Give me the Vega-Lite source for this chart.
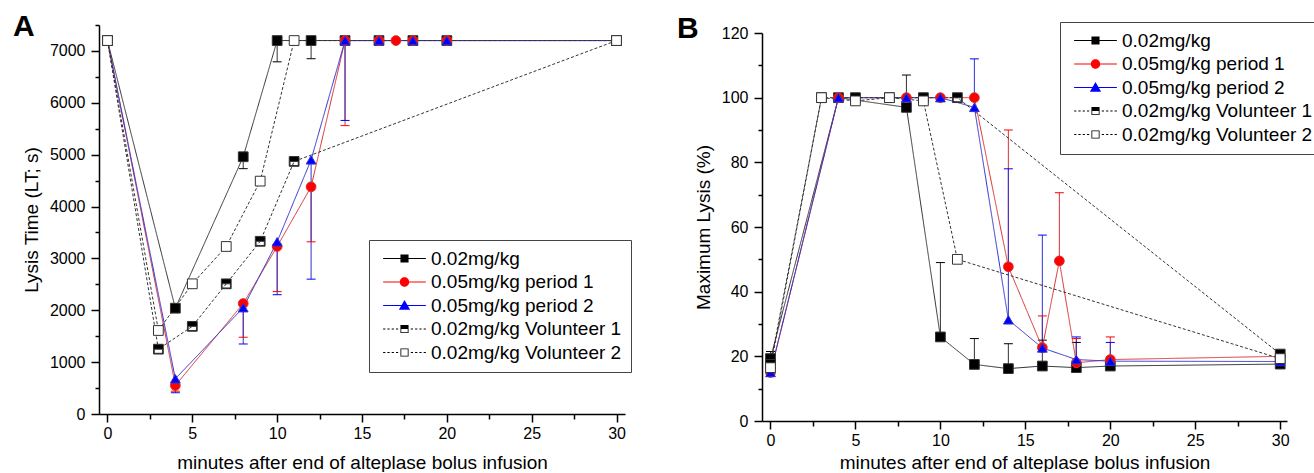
{
  "$schema": "https://vega.github.io/schema/vega-lite/v6.json",
  "padding": {"left": 12, "top": 11, "right": 0, "bottom": 0},
  "config": {
    "font": "Liberation Sans",
    "view": {"stroke": null},
    "axis": {
      "grid": false,
      "domainColor": "#000",
      "domainWidth": 1.5,
      "tickColor": "#000",
      "tickWidth": 1.5,
      "labelFont": "Liberation Sans",
      "labelFontSize": 16,
      "labelColor": "#000",
      "titleFont": "Liberation Sans",
      "titleFontSize": 19,
      "titleFontWeight": "normal",
      "titleColor": "#000",
      "labelFlush": false,
      "labelOverlap": false
    }
  },
  "datasets": {
    "A": [
      {"s": "0.02mg/kg", "x": 0, "y": 7200, "e": null},
      {"s": "0.02mg/kg", "x": 4, "y": 2040, "e": null},
      {"s": "0.02mg/kg", "x": 8, "y": 4960, "e": 4730},
      {"s": "0.02mg/kg", "x": 10, "y": 7200, "e": 6790},
      {"s": "0.02mg/kg", "x": 12, "y": 7200, "e": 6850},
      {"s": "0.02mg/kg", "x": 14, "y": 7200, "e": null},
      {"s": "0.02mg/kg", "x": 16, "y": 7200, "e": null},
      {"s": "0.02mg/kg", "x": 18, "y": 7200, "e": null},
      {"s": "0.02mg/kg", "x": 20, "y": 7200, "e": null},
      {"s": "0.02mg/kg", "x": 30, "y": 7200, "e": null},
      {"s": "0.05mg/kg period 1", "x": 0, "y": 7200, "e": null},
      {"s": "0.05mg/kg period 1", "x": 4, "y": 550, "e": 440},
      {"s": "0.05mg/kg period 1", "x": 8, "y": 2130, "e": 1480},
      {"s": "0.05mg/kg period 1", "x": 10, "y": 3230, "e": 2360},
      {"s": "0.05mg/kg period 1", "x": 12, "y": 4380, "e": 3320},
      {"s": "0.05mg/kg period 1", "x": 14, "y": 7200, "e": 5560},
      {"s": "0.05mg/kg period 1", "x": 16, "y": 7200, "e": null},
      {"s": "0.05mg/kg period 1", "x": 17, "y": 7200, "e": null},
      {"s": "0.05mg/kg period 1", "x": 18, "y": 7200, "e": null},
      {"s": "0.05mg/kg period 1", "x": 20, "y": 7200, "e": null},
      {"s": "0.05mg/kg period 1", "x": 30, "y": 7200, "e": null},
      {"s": "0.05mg/kg period 2", "x": 0, "y": 7200, "e": null},
      {"s": "0.05mg/kg period 2", "x": 4, "y": 680, "e": 410},
      {"s": "0.05mg/kg period 2", "x": 8, "y": 2050, "e": 1350},
      {"s": "0.05mg/kg period 2", "x": 10, "y": 3320, "e": 2300},
      {"s": "0.05mg/kg period 2", "x": 12, "y": 4900, "e": 2600},
      {"s": "0.05mg/kg period 2", "x": 14, "y": 7200, "e": 5660},
      {"s": "0.05mg/kg period 2", "x": 16, "y": 7200, "e": null},
      {"s": "0.05mg/kg period 2", "x": 18, "y": 7200, "e": null},
      {"s": "0.05mg/kg period 2", "x": 20, "y": 7200, "e": null},
      {"s": "0.05mg/kg period 2", "x": 30, "y": 7200, "e": null},
      {"s": "0.02mg/kg Volunteer 1", "x": 0, "y": 7200, "e": null},
      {"s": "0.02mg/kg Volunteer 1", "x": 3, "y": 1250, "e": null},
      {"s": "0.02mg/kg Volunteer 1", "x": 5, "y": 1690, "e": null},
      {"s": "0.02mg/kg Volunteer 1", "x": 7, "y": 2510, "e": null},
      {"s": "0.02mg/kg Volunteer 1", "x": 9, "y": 3330, "e": null},
      {"s": "0.02mg/kg Volunteer 1", "x": 11, "y": 4870, "e": null},
      {"s": "0.02mg/kg Volunteer 1", "x": 30, "y": 7200, "e": null},
      {"s": "0.02mg/kg Volunteer 2", "x": 0, "y": 7200, "e": null},
      {"s": "0.02mg/kg Volunteer 2", "x": 3, "y": 1610, "e": null},
      {"s": "0.02mg/kg Volunteer 2", "x": 5, "y": 2510, "e": null},
      {"s": "0.02mg/kg Volunteer 2", "x": 7, "y": 3230, "e": null},
      {"s": "0.02mg/kg Volunteer 2", "x": 9, "y": 4490, "e": null},
      {"s": "0.02mg/kg Volunteer 2", "x": 11, "y": 7200, "e": null},
      {"s": "0.02mg/kg Volunteer 2", "x": 30, "y": 7200, "e": null}
    ],
    "B": [
      {"s": "0.02mg/kg", "x": 0, "y": 19.3, "e": 21.5},
      {"s": "0.02mg/kg", "x": 4, "y": 100, "e": null},
      {"s": "0.02mg/kg", "x": 8, "y": 97, "e": 107},
      {"s": "0.02mg/kg", "x": 10, "y": 26, "e": 49},
      {"s": "0.02mg/kg", "x": 12, "y": 17.5, "e": 25.5},
      {"s": "0.02mg/kg", "x": 14, "y": 16.2, "e": 23.9},
      {"s": "0.02mg/kg", "x": 16, "y": 17, "e": 25},
      {"s": "0.02mg/kg", "x": 18, "y": 16.5, "e": 24.3},
      {"s": "0.02mg/kg", "x": 20, "y": 17, "e": null},
      {"s": "0.02mg/kg", "x": 30, "y": 17.6, "e": null},
      {"s": "0.05mg/kg period 1", "x": 0, "y": 15, "e": null},
      {"s": "0.05mg/kg period 1", "x": 4, "y": 100, "e": null},
      {"s": "0.05mg/kg period 1", "x": 8, "y": 100, "e": null},
      {"s": "0.05mg/kg period 1", "x": 10, "y": 100, "e": null},
      {"s": "0.05mg/kg period 1", "x": 12, "y": 100, "e": null},
      {"s": "0.05mg/kg period 1", "x": 14, "y": 47.7, "e": 90},
      {"s": "0.05mg/kg period 1", "x": 16, "y": 22.7, "e": 32.5},
      {"s": "0.05mg/kg period 1", "x": 17, "y": 49.5, "e": 70.6},
      {"s": "0.05mg/kg period 1", "x": 18, "y": 18, "e": 25.5},
      {"s": "0.05mg/kg period 1", "x": 20, "y": 19, "e": 26},
      {"s": "0.05mg/kg period 1", "x": 30, "y": 20, "e": 21.5},
      {"s": "0.05mg/kg period 2", "x": 0, "y": 15, "e": null},
      {"s": "0.05mg/kg period 2", "x": 4, "y": 100, "e": null},
      {"s": "0.05mg/kg period 2", "x": 8, "y": 100, "e": null},
      {"s": "0.05mg/kg period 2", "x": 10, "y": 100, "e": null},
      {"s": "0.05mg/kg period 2", "x": 12, "y": 97, "e": 112},
      {"s": "0.05mg/kg period 2", "x": 14, "y": 31.3, "e": 78},
      {"s": "0.05mg/kg period 2", "x": 16, "y": 22.6, "e": 57.5},
      {"s": "0.05mg/kg period 2", "x": 18, "y": 19, "e": 26},
      {"s": "0.05mg/kg period 2", "x": 20, "y": 18.5, "e": 24.3},
      {"s": "0.05mg/kg period 2", "x": 30, "y": 18.4, "e": null},
      {"s": "0.02mg/kg Volunteer 1", "x": 0, "y": 17.5, "e": null},
      {"s": "0.02mg/kg Volunteer 1", "x": 3, "y": 100, "e": null},
      {"s": "0.02mg/kg Volunteer 1", "x": 5, "y": 100, "e": null},
      {"s": "0.02mg/kg Volunteer 1", "x": 7, "y": 100, "e": null},
      {"s": "0.02mg/kg Volunteer 1", "x": 9, "y": 100, "e": null},
      {"s": "0.02mg/kg Volunteer 1", "x": 11, "y": 100, "e": null},
      {"s": "0.02mg/kg Volunteer 1", "x": 30, "y": 20.7, "e": null},
      {"s": "0.02mg/kg Volunteer 2", "x": 0, "y": 16.5, "e": null},
      {"s": "0.02mg/kg Volunteer 2", "x": 3, "y": 100, "e": null},
      {"s": "0.02mg/kg Volunteer 2", "x": 5, "y": 99, "e": null},
      {"s": "0.02mg/kg Volunteer 2", "x": 7, "y": 100, "e": null},
      {"s": "0.02mg/kg Volunteer 2", "x": 9, "y": 99, "e": null},
      {"s": "0.02mg/kg Volunteer 2", "x": 11, "y": 50, "e": null},
      {"s": "0.02mg/kg Volunteer 2", "x": 30, "y": 19.3, "e": null}
    ]
  },
  "spacing": 44,
  "hconcat": [
    {
      "width": 526,
      "height": 389,
      "data": {"name": "A"},
      "encoding": {
        "x": {"field": "x", "type": "quantitative", "scale": {"domain": [-0.5, 30.5], "nice": false, "zero": false},
          "axis": {"title": "minutes after end of alteplase bolus infusion", "values": [0, 2.5, 5, 7.5, 10, 12.5, 15, 17.5, 20, 22.5, 25, 27.5, 30],
            "labelExpr": "datum.value % 5 === 0 ? datum.label : ''",
            "tickSize": {"condition": {"test": "datum.value % 5 === 0", "value": 8}, "value": 5},
            "labelPadding": 3, "titlePadding": 12}},
        "y": {"field": "y", "type": "quantitative", "scale": {"domain": [0, 7500], "nice": false},
          "axis": {"title": "Lysis Time (LT; s)", "values": [0, 500, 1000, 1500, 2000, 2500, 3000, 3500, 4000, 4500, 5000, 5500, 6000, 6500, 7000, 7500],
            "format": "d",
            "labelExpr": "datum.value % 1000 === 0 ? datum.label : ''",
            "tickSize": {"condition": {"test": "datum.value % 1000 === 0", "value": 8}, "value": 4},
            "labelPadding": 6, "titlePadding": 8}}
      },
      "layer": [
        {
          "transform": [{"filter": "isValid(datum.e)"}],
          "mark": {"type": "rule", "strokeWidth": 1},
          "encoding": {
            "y2": {"field": "e"},
            "stroke": {"field": "s", "type": "nominal", "legend": null,
              "scale": {"domain": ["0.02mg/kg", "0.05mg/kg period 1", "0.05mg/kg period 2", "0.02mg/kg Volunteer 1", "0.02mg/kg Volunteer 2"], "range": ["#333333", "#d83030", "#3030d0", "#333333", "#333333"]}}
          }
        },
        {
          "transform": [{"filter": "isValid(datum.e)"}],
          "mark": {"type": "tick", "orient": "horizontal", "size": 9, "thickness": 1, "opacity": 1},
          "encoding": {
            "y": {"field": "e", "type": "quantitative", "title": "Lysis Time (LT; s)"},
            "fill": {"field": "s", "type": "nominal", "legend": null,
              "scale": {"domain": ["0.02mg/kg", "0.05mg/kg period 1", "0.05mg/kg period 2", "0.02mg/kg Volunteer 1", "0.02mg/kg Volunteer 2"], "range": ["#000000", "#ff0000", "#0000ff", "#000000", "#ffffff"]}}
          }
        },
        {
          "mark": {"type": "line", "strokeWidth": 1},
          "encoding": {
            "stroke": {"field": "s", "type": "nominal", "legend": null},
            "strokeDash": {"field": "s", "type": "nominal", "legend": null,
              "scale": {"domain": ["0.02mg/kg", "0.05mg/kg period 1", "0.05mg/kg period 2", "0.02mg/kg Volunteer 1", "0.02mg/kg Volunteer 2"], "range": [[1, 0], [1, 0], [1, 0], [3, 2], [3, 2]]}},
            "order": {"field": "x", "type": "quantitative"}
          }
        },
        {
          "mark": {"type": "point", "filled": true, "opacity": 1, "size": 95, "strokeWidth": 1},
          "encoding": {
            "shape": {"field": "s", "type": "nominal", "legend": null,
              "scale": {"domain": ["0.02mg/kg", "0.05mg/kg period 1", "0.05mg/kg period 2", "0.02mg/kg Volunteer 1", "0.02mg/kg Volunteer 2"],
                "range": ["square", "circle", "triangle-up", "M-1,-1H1V1H-1Z M-0.85,0V0.85H0.85V0Z", "square"]}},
            "fill": {"field": "s", "type": "nominal", "legend": null},
            "stroke": {"field": "s", "type": "nominal", "legend": null}
          }
        },
        {
          "transform": [{"filter": "datum.s === '0.02mg/kg' && datum.x === 0"}],
          "mark": {"type": "text", "text": "A", "fontSize": 30, "fontWeight": "bold", "font": "Liberation Sans", "align": "left", "baseline": "alphabetic", "fill": "#000", "dx": -94.5, "dy": -4.6}
        },
        {
          "transform": [{"filter": "datum.x < -100"}],
          "mark": {"type": "point", "filled": true, "opacity": 1},
          "encoding": {
            "shape": {"field": "s", "type": "nominal",
              "scale": {"domain": ["0.02mg/kg", "0.05mg/kg period 1", "0.05mg/kg period 2", "0.02mg/kg Volunteer 1", "0.02mg/kg Volunteer 2"],
                "range": [
                  "M-4.75,-0.12H4.75V0.12H-4.75Z M-0.9,-0.9H0.9V0.9H-0.9Z",
                  "M-4.75,-0.12H4.75V0.12H-4.75Z M-1.05,0A1.05,1.05,0,1,1,1.05,0A1.05,1.05,0,1,1,-1.05,0Z",
                  "M-4.75,-0.12H4.75V0.12H-4.75Z M0,-1.2L1.25,0.95L-1.25,0.95Z",
                  "M-4.75,-0.1H-4.25V0.1H-4.75Z M-3.8,-0.1H-3.3V0.1H-3.8Z M-2.85,-0.1H-2.35V0.1H-2.85Z M-1.9,-0.1H-1.4V0.1H-1.9Z M1.4,-0.1H1.9V0.1H1.4Z M2.35,-0.1H2.85V0.1H2.35Z M3.3,-0.1H3.8V0.1H3.3Z M4.25,-0.1H4.75V0.1H4.25Z M-0.9,-0.9H0.9V0.9H-0.9Z M-0.72,0V0.72H0.72V0Z",
                  "M-4.75,-0.1H-4.25V0.1H-4.75Z M-3.8,-0.1H-3.3V0.1H-3.8Z M-2.85,-0.1H-2.35V0.1H-2.85Z M-1.9,-0.1H-1.4V0.1H-1.9Z M1.4,-0.1H1.9V0.1H1.4Z M2.35,-0.1H2.85V0.1H2.35Z M3.3,-0.1H3.8V0.1H3.3Z M4.25,-0.1H4.75V0.1H4.25Z M-0.9,-0.9H0.9V0.9H-0.9Z M-0.72,-0.72V0.72H0.72V-0.72Z"
                ]},
              "legend": {"title": null, "orient": "none", "legendX": 270, "legendY": 215, "strokeColor": "#444", "fillColor": "#fff", "padding": 9, "symbolSize": 81, "symbolStrokeWidth": 0, "symbolOpacity": 1, "symbolFillColor": "#000", "symbolOffset": 17, "labelOffset": 17, "labelFont": "Liberation Sans", "labelFontSize": 19, "labelColor": "#000", "rowPadding": 3.5, "labelLimit": 400}},
            "color": {"field": "s", "type": "nominal",
              "scale": {"domain": ["0.02mg/kg", "0.05mg/kg period 1", "0.05mg/kg period 2", "0.02mg/kg Volunteer 1", "0.02mg/kg Volunteer 2"], "range": ["#000000", "#ff0000", "#0000ff", "#000000", "#000000"]},
              "legend": {"title": null, "orient": "none", "legendX": 270, "legendY": 215, "strokeColor": "#444", "fillColor": "#fff", "padding": 9, "symbolSize": 81, "symbolStrokeWidth": 0, "symbolOpacity": 1, "symbolFillColor": "#000", "symbolOffset": 17, "labelOffset": 17, "labelFont": "Liberation Sans", "labelFontSize": 19, "labelColor": "#000", "rowPadding": 3.5, "labelLimit": 400}}
          }
        }
      ],
      "resolve": {"scale": {"shape": "independent", "color": "independent"}}
    },
    {
      "width": 525,
      "height": 396,
      "data": {"name": "B"},
      "encoding": {
        "x": {"field": "x", "type": "quantitative", "scale": {"domain": [-0.5, 30.4], "nice": false, "zero": false},
          "axis": {"title": "minutes after end of alteplase bolus infusion", "values": [0, 2.5, 5, 7.5, 10, 12.5, 15, 17.5, 20, 22.5, 25, 27.5, 30],
            "labelExpr": "datum.value % 5 === 0 ? datum.label : ''",
            "tickSize": {"condition": {"test": "datum.value % 5 === 0", "value": 8}, "value": 5},
            "labelPadding": 3, "titlePadding": 5}},
        "y": {"field": "y", "type": "quantitative", "scale": {"domain": [0, 120], "nice": false, "range": [396, 8]},
          "axis": {"title": "Maximum Lysis (%)", "values": [0, 10, 20, 30, 40, 50, 60, 70, 80, 90, 100, 110, 120],
            "labelExpr": "datum.value % 20 === 0 ? datum.label : ''",
            "tickSize": {"condition": {"test": "datum.value % 20 === 0", "value": 8}, "value": 4},
            "labelPadding": 6, "titlePadding": 8}}
      },
      "layer": [
        {
          "transform": [{"filter": "isValid(datum.e)"}],
          "mark": {"type": "rule", "strokeWidth": 1},
          "encoding": {
            "y2": {"field": "e"},
            "stroke": {"field": "s", "type": "nominal", "legend": null,
              "scale": {"domain": ["0.02mg/kg", "0.05mg/kg period 1", "0.05mg/kg period 2", "0.02mg/kg Volunteer 1", "0.02mg/kg Volunteer 2"], "range": ["#333333", "#d83030", "#3030d0", "#333333", "#333333"]}}
          }
        },
        {
          "transform": [{"filter": "isValid(datum.e)"}],
          "mark": {"type": "tick", "orient": "horizontal", "size": 9, "thickness": 1, "opacity": 1},
          "encoding": {
            "y": {"field": "e", "type": "quantitative", "title": "Maximum Lysis (%)"},
            "fill": {"field": "s", "type": "nominal", "legend": null,
              "scale": {"domain": ["0.02mg/kg", "0.05mg/kg period 1", "0.05mg/kg period 2", "0.02mg/kg Volunteer 1", "0.02mg/kg Volunteer 2"], "range": ["#000000", "#ff0000", "#0000ff", "#000000", "#ffffff"]}}
          }
        },
        {
          "mark": {"type": "line", "strokeWidth": 1},
          "encoding": {
            "stroke": {"field": "s", "type": "nominal", "legend": null},
            "strokeDash": {"field": "s", "type": "nominal", "legend": null,
              "scale": {"domain": ["0.02mg/kg", "0.05mg/kg period 1", "0.05mg/kg period 2", "0.02mg/kg Volunteer 1", "0.02mg/kg Volunteer 2"], "range": [[1, 0], [1, 0], [1, 0], [3, 2], [3, 2]]}},
            "order": {"field": "x", "type": "quantitative"}
          }
        },
        {
          "mark": {"type": "point", "filled": true, "opacity": 1, "size": 95, "strokeWidth": 1},
          "encoding": {
            "shape": {"field": "s", "type": "nominal", "legend": null,
              "scale": {"domain": ["0.02mg/kg", "0.05mg/kg period 1", "0.05mg/kg period 2", "0.02mg/kg Volunteer 1", "0.02mg/kg Volunteer 2"],
                "range": ["square", "circle", "triangle-up", "M-1,-1H1V1H-1Z M-0.85,0V0.85H0.85V0Z", "square"]}},
            "fill": {"field": "s", "type": "nominal", "legend": null},
            "stroke": {"field": "s", "type": "nominal", "legend": null}
          }
        },
        {
          "transform": [{"filter": "datum.s === '0.02mg/kg Volunteer 2' && datum.x === 3"}],
          "mark": {"type": "text", "text": "B", "fontSize": 30, "fontWeight": "bold", "font": "Liberation Sans", "align": "left", "baseline": "alphabetic", "fill": "#000", "dx": -144.5, "dy": -60}
        },
        {
          "transform": [{"filter": "datum.x < -100"}],
          "mark": {"type": "point", "filled": true, "opacity": 1},
          "encoding": {
            "shape": {"field": "s", "type": "nominal",
              "scale": {"domain": ["0.02mg/kg", "0.05mg/kg period 1", "0.05mg/kg period 2", "0.02mg/kg Volunteer 1", "0.02mg/kg Volunteer 2"],
                "range": [
                  "M-4.75,-0.12H4.75V0.12H-4.75Z M-0.9,-0.9H0.9V0.9H-0.9Z",
                  "M-4.75,-0.12H4.75V0.12H-4.75Z M-1.05,0A1.05,1.05,0,1,1,1.05,0A1.05,1.05,0,1,1,-1.05,0Z",
                  "M-4.75,-0.12H4.75V0.12H-4.75Z M0,-1.2L1.25,0.95L-1.25,0.95Z",
                  "M-4.75,-0.1H-4.25V0.1H-4.75Z M-3.8,-0.1H-3.3V0.1H-3.8Z M-2.85,-0.1H-2.35V0.1H-2.85Z M-1.9,-0.1H-1.4V0.1H-1.9Z M1.4,-0.1H1.9V0.1H1.4Z M2.35,-0.1H2.85V0.1H2.35Z M3.3,-0.1H3.8V0.1H3.3Z M4.25,-0.1H4.75V0.1H4.25Z M-0.9,-0.9H0.9V0.9H-0.9Z M-0.72,0V0.72H0.72V0Z",
                  "M-4.75,-0.1H-4.25V0.1H-4.75Z M-3.8,-0.1H-3.3V0.1H-3.8Z M-2.85,-0.1H-2.35V0.1H-2.85Z M-1.9,-0.1H-1.4V0.1H-1.9Z M1.4,-0.1H1.9V0.1H1.4Z M2.35,-0.1H2.85V0.1H2.35Z M3.3,-0.1H3.8V0.1H3.3Z M4.25,-0.1H4.75V0.1H4.25Z M-0.9,-0.9H0.9V0.9H-0.9Z M-0.72,-0.72V0.72H0.72V-0.72Z"
                ]},
              "legend": {"title": null, "orient": "none", "legendX": 298, "legendY": -3, "strokeColor": "#444", "fillColor": "#fff", "padding": 9, "symbolSize": 81, "symbolStrokeWidth": 0, "symbolOpacity": 1, "symbolFillColor": "#000", "symbolOffset": 17, "labelOffset": 17, "labelFont": "Liberation Sans", "labelFontSize": 19, "labelColor": "#000", "rowPadding": 3.5, "labelLimit": 400}},
            "color": {"field": "s", "type": "nominal",
              "scale": {"domain": ["0.02mg/kg", "0.05mg/kg period 1", "0.05mg/kg period 2", "0.02mg/kg Volunteer 1", "0.02mg/kg Volunteer 2"], "range": ["#000000", "#ff0000", "#0000ff", "#000000", "#000000"]},
              "legend": {"title": null, "orient": "none", "legendX": 298, "legendY": -3, "strokeColor": "#444", "fillColor": "#fff", "padding": 9, "symbolSize": 81, "symbolStrokeWidth": 0, "symbolOpacity": 1, "symbolFillColor": "#000", "symbolOffset": 17, "labelOffset": 17, "labelFont": "Liberation Sans", "labelFontSize": 19, "labelColor": "#000", "rowPadding": 3.5, "labelLimit": 400}}
          }
        }
      ],
      "resolve": {"scale": {"shape": "independent", "color": "independent"}}
    }
  ]
}
